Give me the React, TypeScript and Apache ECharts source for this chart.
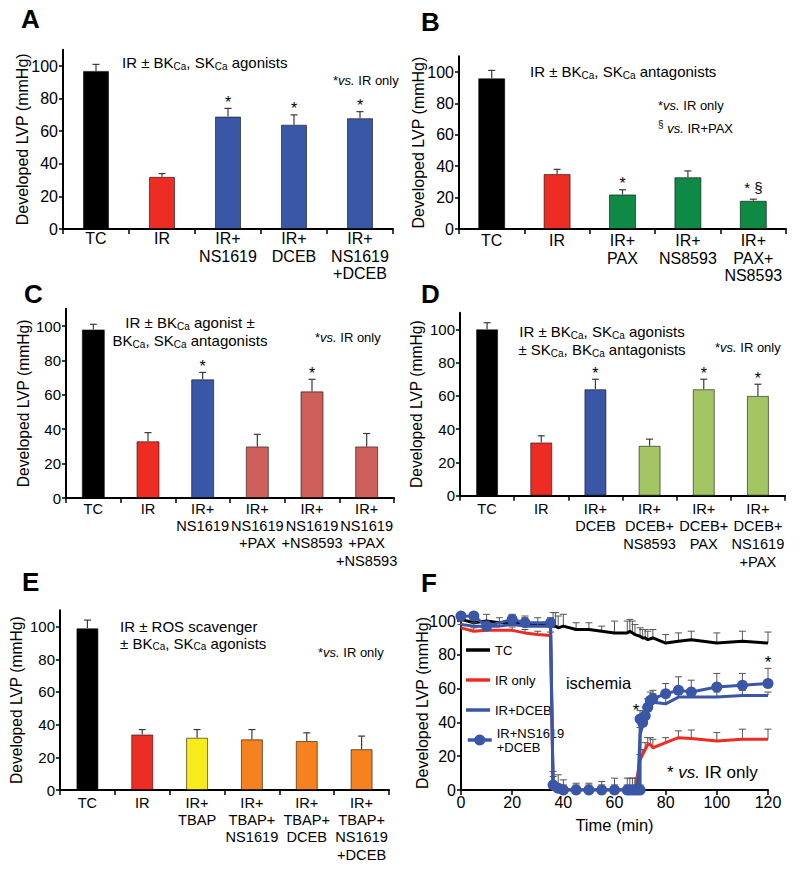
import React, { useEffect, useRef } from 'react';
import * as echarts from 'echarts';

const FONT = "'Liberation Sans', Arial, Helvetica, sans-serif";

const BLACK = '#000000';
const RED = '#ed2d24';
const BLUE = '#3a56a6';
const GREEN = '#0f8a45';
const SALMON = '#ce5f5a';
const LGREEN = '#a3c564';
const YELLOW = '#f7eb1b';
const ORANGE = '#f5821f';

const Y_TICKS = [0, 20, 40, 60, 80, 100];

// ---------- Panel A ----------
const catsA = ['TC', 'IR', 'IR+\nNS1619', 'IR+\nDCEB', 'IR+\nNS1619\n+DCEB'];
const valsA = [97, 32, 69, 64, 68];
const errA = [4, 2, 5, 6, 4];
const sigA = ['', '', '*', '*', '*'];
const colA = [BLACK, RED, BLUE, BLUE, BLUE];

// ---------- Panel B ----------
const catsB = ['TC', 'IR', 'IR+\nPAX', 'IR+\nNS8593', 'IR+\nPAX+\nNS8593'];
const valsB = [96, 35, 22, 33, 18];
const errB = [5, 3, 3, 4, 1];
const sigB = ['', '', '*', '', '* §'];
const colB = [BLACK, RED, GREEN, GREEN, GREEN];

// ---------- Panel C ----------
const catsC = ['TC', 'IR', 'IR+\nNS1619', 'IR+\nNS1619\n+PAX', 'IR+\nNS1619\n+NS8593', 'IR+\nNS1619\n+PAX\n+NS8593'];
const valsC = [98, 33, 69, 30, 62, 30];
const errC = [3, 5, 4, 7, 7, 7.5];
const sigC = ['', '', '*', '', '*', ''];
const colC = [BLACK, RED, BLUE, SALMON, SALMON, SALMON];

// ---------- Panel D ----------
const catsD = ['TC', 'IR', 'IR+\nDCEB', 'IR+\nDCEB+\nNS8593', 'IR+\nDCEB+\nPAX', 'IR+\nDCEB+\nNS1619\n+PAX'];
const valsD = [100, 32, 64, 30, 64, 60];
const errD = [4, 4, 6, 4, 6, 7];
const sigD = ['', '', '*', '', '*', '*'];
const colD = [BLACK, RED, BLUE, LGREEN, LGREEN, LGREEN];

// ---------- Panel E ----------
const catsE = ['TC', 'IR', 'IR+\nTBAP', 'IR+\nTBAP+\nNS1619', 'IR+\nTBAP+\nDCEB', 'IR+\nTBAP+\nNS1619\n+DCEB'];
const valsE = [99, 34, 32, 31, 30, 25];
const errE = [5, 3, 5, 6, 5, 8];
const sigE = ['', '', '', '', '', ''];
const colE = [BLACK, RED, YELLOW, ORANGE, ORANGE, ORANGE];

// ---------- Panel F (time course) ----------
const tTC = [0, 5, 10, 15, 20, 25, 30, 35, 36, 37, 38, 40, 45, 50, 55, 60, 65, 66, 67, 68, 70, 71, 72, 73, 75, 80, 85, 90, 100, 110, 120];
const vTC = [101, 99, 100, 99, 99, 98, 98, 97, 97, 97, 96, 97, 95, 95, 94, 93, 93, 94, 93, 92, 91, 90, 90, 89, 90, 87, 88, 89, 87, 88, 87];
const eTC = [3, 3, 4, 3, 4, 5, 4, 4, 8, 8, 7, 7, 4, 4, 3, 7, 7, 7, 7, 6, 5, 5, 5, 5, 5, 5, 5, 5, 6, 6, 6.5];

const tIR = [0, 5, 10, 20, 25, 30, 35, 36, 40, 45, 50, 55, 60, 65, 68, 70, 71, 72, 73, 74, 75, 80, 85, 90, 100, 110, 120];
const vIR = [96, 94, 94.5, 94.5, 93, 92, 91.5, 0, 0, 0, 0, 0, 0, 0, 0, 18, 21, 24, 27, 27, 25, 28, 31, 30.5, 29, 30, 30];
const eIR = [2, 2, 2, 2, 2, 2, 2, 0, 0, 0, 0, 0, 0, 0, 0, 3, 3, 4, 4, 4, 5, 3, 4, 5, 5, 6, 6];

const tDC = [0, 5, 10, 15, 20, 25, 30, 35, 36, 38, 40, 45, 50, 55, 60, 65, 68, 69, 70, 71, 72, 73, 74, 75, 80, 85, 90, 100, 110, 120];
const vDC = [98, 97, 97, 97, 98, 97, 97, 97, 2, 0, 0, 0, 0, 0, 0, 0, 0, 0, 33, 38, 42, 47, 50, 52, 51, 55, 55, 55, 56, 56];
const eDC = [2, 2, 2, 2, 2, 2, 2, 2, 6, 3, 3, 3, 3, 3, 3, 3, 3, 3, 4, 4, 4, 4, 4, 5, 4, 5, 4, 3, 3, 2];

const tND = [0, 5, 10, 20, 25, 35, 36, 38, 40, 45, 50, 55, 60, 65, 66, 67, 68, 69, 70, 70, 71, 72, 73, 74, 75, 80, 85, 90, 100, 110, 120];
const vND = [103, 103, 97, 101, 99, 99, 3, 1, 0, 0, 0, 0, 0, 0, 0, 0, 0, 0, 0, 42, 40, 44, 49, 53, 54, 57, 59, 58, 61, 62, 63];
const eND = [2, 2, 3, 3, 3, 3, 8, 8, 6, 4, 4, 5, 7, 7, 7, 7, 7, 7, 3, 5, 5, 5, 5, 5, 5, 6, 8, 7, 8, 7, 9];
const starND = tND.map((t, i) => (i === 19 ? 'left' : t === 120 ? 'above' : ''));

const F_X_TICKS = [0, 20, 40, 60, 80, 100, 120];

const both = (h: string, v: string) => ({ align: h, verticalAlign: v, textAlign: h, textVerticalAlign: v });

function barErrRender(sigs: string[]) {
  return (params: any, api: any) => {
    const i = api.value(0);
    const v = api.value(1);
    const hi = api.value(2);
    const p0 = api.coord([i, v]);
    const p1 = api.coord([i, hi]);
    const st = { stroke: '#3a3a3a', lineWidth: 1.2 };
    const children: any[] = [
      { type: 'line', shape: { x1: p0[0], y1: p0[1], x2: p1[0], y2: p1[1] }, style: st },
      { type: 'line', shape: { x1: p1[0] - 3.5, y1: p1[1], x2: p1[0] + 3.5, y2: p1[1] }, style: st },
    ];
    const s = sigs[params.dataIndex];
    if (s) {
      const multi = s.length > 1;
      children.push({
        type: 'text',
        x: p1[0],
        y: p1[1] - (multi ? 12 : 6),
        style: { text: s, fontSize: multi ? 15 : 16, fontFamily: FONT, fill: '#000', ...both('center', 'middle') },
      });
    }
    return { type: 'group', children };
  };
}

function lineErrRender(stars: string[], color: string) {
  return (params: any, api: any) => {
    const t = api.value(0);
    const v = api.value(1);
    const hi = api.value(2);
    const p0 = api.coord([t, v]);
    const p1 = api.coord([t, hi]);
    const st = { stroke: color, lineWidth: 1 };
    const children: any[] = [];
    if (hi > v) {
      children.push({ type: 'line', shape: { x1: p0[0], y1: p0[1], x2: p1[0], y2: p1[1] }, style: st });
      children.push({ type: 'line', shape: { x1: p1[0] - 3.5, y1: p1[1], x2: p1[0] + 3.5, y2: p1[1] }, style: st });
    }
    const s = stars[params.dataIndex];
    if (s === 'above') {
      children.push({ type: 'text', x: p1[0], y: p1[1] - 6, style: { text: '*', fontSize: 17, fontFamily: FONT, fill: '#000', ...both('center', 'middle') } });
    } else if (s === 'left') {
      children.push({ type: 'text', x: p0[0] - 4, y: p0[1] - 9, style: { text: '*', fontSize: 17, fontFamily: FONT, fill: '#000', ...both('center', 'middle') } });
    }
    return { type: 'group', children };
  };
}

function buildOption() {
  const grids: any[] = [];
  const xAxes: any[] = [];
  const yAxes: any[] = [];
  const series: any[] = [];

  const yAxisBase = (k: number, max: number, nameGap: number, tickFont: number, nameFont: number) => ({
    type: 'value',
    gridIndex: k,
    min: 0,
    max,
    interval: 20,
    axisLine: { show: true, lineStyle: { color: '#000', width: 2 } },
    axisTick: { show: true, length: 4, lineStyle: { color: '#000', width: 1.5 }, customValues: Y_TICKS },
    axisLabel: {
      color: '#000', fontSize: tickFont, margin: 5, fontFamily: FONT, customValues: Y_TICKS,
      formatter: (v: number) => (v > 100 ? '' : String(v)),
    },
    splitLine: { show: false },
    name: 'Developed LVP (mmHg)',
    nameLocation: 'middle',
    nameGap,
    nameRotate: 90,
    nameMoveOverlap: false,
    nameTextStyle: { color: '#000', fontSize: nameFont, fontFamily: FONT },
  });

  const barPanel = (cfg: any) => {
    const k = grids.length;
    grids.push({ ...cfg.grid, containLabel: false, outerBoundsMode: 'none' });
    xAxes.push({
      type: 'category',
      gridIndex: k,
      data: cfg.cats,
      axisLine: { show: true, lineStyle: { color: '#000', width: 2 } },
      axisTick: { show: true, length: 5, lineStyle: { color: '#000', width: 1.5 } },
      axisLabel: { interval: 0, color: '#000', fontSize: cfg.catFont, lineHeight: cfg.lineH, margin: cfg.labelMargin, fontFamily: FONT },
      splitLine: { show: false },
    });
    yAxes.push(yAxisBase(k, 110, cfg.nameGap, cfg.tickFont, cfg.nameFont));
    series.push({
      type: 'bar',
      xAxisIndex: k,
      yAxisIndex: k,
      barWidth: cfg.barWidth,
      data: cfg.vals.map((v: number, i: number) => ({ value: v, itemStyle: { color: cfg.colors[i] } })),
      itemStyle: { borderColor: 'rgba(0,0,0,0.55)', borderWidth: 1 },
      z: 2,
    });
    series.push({
      type: 'custom',
      xAxisIndex: k,
      yAxisIndex: k,
      data: cfg.vals.map((v: number, i: number) => [i, v, v + cfg.errs[i]]),
      encode: { x: 0, y: [1, 2] },
      renderItem: barErrRender(cfg.sigs),
      z: 3,
    });
  };

  barPanel({ cats: catsA, vals: valsA, errs: errA, sigs: sigA, colors: colA, grid: { left: 63, top: 49.7, width: 330, height: 179.3 }, barWidth: 26, labelMargin: 1, nameGap: 33, catFont: 16, tickFont: 16, nameFont: 16, lineH: 17.5 });
  barPanel({ cats: catsB, vals: valsB, errs: errB, sigs: sigB, colors: colB, grid: { left: 459, top: 56.3, width: 327, height: 172.7 }, barWidth: 27, labelMargin: 3, nameGap: 33, catFont: 16, tickFont: 16, nameFont: 16, lineH: 17.5 });
  barPanel({ cats: catsC, vals: valsC, errs: errC, sigs: sigC, colors: colC, grid: { left: 66, top: 308.8, width: 328, height: 189.2 }, barWidth: 23, labelMargin: 2, nameGap: 35, catFont: 14.6, tickFont: 15, nameFont: 15.6, lineH: 17.3 });
  barPanel({ cats: catsD, vals: valsD, errs: errD, sigs: sigD, colors: colD, grid: { left: 460, top: 312.7, width: 325, height: 183 }, barWidth: 22, labelMargin: 4, nameGap: 35.5, catFont: 14.6, tickFont: 15, nameFont: 15.6, lineH: 17.8 });
  barPanel({ cats: catsE, vals: valsE, errs: errE, sigs: sigE, colors: colE, grid: { left: 60, top: 610.3, width: 329, height: 179.7 }, barWidth: 22, labelMargin: 4, nameGap: 35.5, catFont: 14.6, tickFont: 15, nameFont: 15.6, lineH: 17.3 });

  // Panel F
  const kF = grids.length;
  grids.push({ left: 461, top: 616, width: 307, height: 174, containLabel: false, outerBoundsMode: 'none' });
  xAxes.push({
    type: 'value',
    gridIndex: kF,
    min: 0,
    max: 120,
    interval: 20,
    axisLine: { show: true, lineStyle: { color: '#000', width: 2 } },
    axisTick: { show: true, length: 5, lineStyle: { color: '#000', width: 1.5 } },
    axisLabel: { color: '#000', fontSize: 16, margin: 4, fontFamily: FONT, customValues: F_X_TICKS },
    splitLine: { show: false },
    name: 'Time (min)',
    nameLocation: 'middle',
    nameGap: 26,
    nameMoveOverlap: false,
    nameTextStyle: { color: '#000', fontSize: 16.5, fontFamily: FONT },
  });
  yAxes.push(yAxisBase(kF, 103, 31, 16, 16));

  const fSeries = [
    { name: 'TC', t: tTC, v: vTC, e: eTC, color: BLACK, symbol: 'none', stars: tTC.map(() => '') },
    { name: 'IR only', t: tIR, v: vIR, e: eIR, color: RED, symbol: 'none', stars: tIR.map(() => '') },
    { name: 'IR+DCEB', t: tDC, v: vDC, e: eDC, color: BLUE, symbol: 'none', stars: tDC.map(() => '') },
    { name: 'IR+NS1619\n+DCEB', t: tND, v: vND, e: eND, color: BLUE, symbol: 'circle', stars: starND },
  ];
  fSeries.forEach((s, j) => {
    series.push({
      type: 'custom',
      xAxisIndex: kF,
      yAxisIndex: kF,
      data: s.t.map((t, i) => [t, s.v[i], s.v[i] + s.e[i]]),
      encode: { x: 0, y: [1, 2] },
      renderItem: lineErrRender(s.stars, '#555'),
      z: 2 + j * 2,
      clip: false,
    });
    series.push({
      type: 'line',
      name: s.name,
      xAxisIndex: kF,
      yAxisIndex: kF,
      data: s.t.map((t, i) => [t, s.v[i]]),
      color: s.color,
      lineStyle: { color: s.color, width: 3 },
      itemStyle: { color: s.color },
      symbol: s.symbol,
      symbolSize: 11,
      showSymbol: s.symbol !== 'none',
      z: 3 + j * 2,
    });
  });

  const annRich = {
    s: { fontSize: 10, lineHeight: 8, verticalAlign: 'bottom', fontFamily: FONT, fill: '#000', color: '#000' },
    i: { fontStyle: 'italic', fontSize: 13, fontFamily: FONT, fill: '#000', color: '#000' },
    sup: { fontSize: 10, lineHeight: 16, verticalAlign: 'top', fontFamily: FONT, fill: '#000', color: '#000' },
    fi: { fontStyle: 'italic', fontSize: 17, fontFamily: FONT, fill: '#000', color: '#000' },
  };

  const txt = (x: number, y: number, text: string, opts: any = {}) => ({
    type: 'text',
    x,
    y,
    z: 100,
    style: {
      text,
      fontSize: 15,
      lineHeight: 17.5,
      fontFamily: FONT,
      fill: '#000',
      rich: annRich,
      ...both(opts.align || 'left', 'middle'),
      ...opts.style,
    },
  });

  const letter = (x: number, y: number, t: string) => ({
    type: 'text',
    x,
    y,
    z: 100,
    style: { text: t, fontSize: 26, fontWeight: 'bold', fontFamily: FONT, fill: '#000', ...both('left', 'middle') },
  });

  const graphic: any[] = [
    letter(21, 19, 'A'),
    letter(421, 22, 'B'),
    letter(24, 293.5, 'C'),
    letter(421, 294, 'D'),
    letter(22, 582, 'E'),
    letter(421, 583, 'F'),

    txt(122, 62.5, 'IR ± BK{s|Ca}, SK{s|Ca} agonists'),
    txt(333, 80, '*{i|vs.} IR only', { style: { fontSize: 13 } }),

    txt(530, 71.5, 'IR ± BK{s|Ca}, SK{s|Ca} antagonists'),
    txt(658, 105, '*{i|vs.} IR only', { style: { fontSize: 13 } }),
    txt(658, 128, '{sup|§} {i|vs.} IR+PAX', { style: { fontSize: 13 } }),

    txt(190, 331.5, 'IR ± BK{s|Ca} agonist ±\nBK{s|Ca}, SK{s|Ca} antagonists', { align: 'center' }),
    txt(315, 337, '*{i|vs.} IR only', { style: { fontSize: 13 } }),

    txt(602, 340.5, 'IR ± BK{s|Ca}, SK{s|Ca} agonists\n± SK{s|Ca}, BK{s|Ca} antagonists', { align: 'center' }),
    txt(715, 347, '*{i|vs.} IR only', { style: { fontSize: 13 } }),

    txt(120, 635, 'IR ± ROS scavenger\n± BK{s|Ca}, SK{s|Ca} agonists', { style: { lineHeight: 16.5 } }),
    txt(318, 652, '*{i|vs.} IR only', { style: { fontSize: 13 } }),

    txt(598.5, 683, 'ischemia', { align: 'center', style: { fontSize: 16.5 } }),
    txt(667, 772, '* {fi|vs.} IR only', { style: { fontSize: 17, lineHeight: 20 } }),
  ];

  return {
    animation: false,
    backgroundColor: '#ffffff',
    textStyle: { fontFamily: FONT },
    grid: grids,
    xAxis: xAxes,
    yAxis: yAxes,
    legend: [
      {
        data: ['TC', 'IR only', 'IR+DCEB'],
        orient: 'vertical',
        left: 461,
        top: 638,
        icon: 'rect',
        itemWidth: 24,
        itemHeight: 3.5,
        itemGap: 16,
        selectedMode: false,
        textStyle: { fontSize: 13, lineHeight: 14, color: '#000', fontFamily: FONT },
      },
      {
        data: ['IR+NS1619\n+DCEB'],
        orient: 'vertical',
        left: 461,
        top: 714.5,
        itemWidth: 24,
        itemHeight: 14,
        selectedMode: false,
        lineStyle: { width: 3.5 },
        textStyle: { fontSize: 13, lineHeight: 14, color: '#000', fontFamily: FONT, padding: [13, 0, 0, 0] },
      },
    ],
    graphic,
    series,
  };
}

export default function App() {
  const ref = useRef<HTMLDivElement>(null);
  useEffect(() => {
    if (!ref.current) return;
    const chart = echarts.init(ref.current, null, { renderer: 'svg' });
    chart.setOption(buildOption() as any);
    return () => chart.dispose();
  }, []);
  return (
    <div
      ref={ref}
      style={{ position: 'absolute', left: 0, top: 0, width: 800, height: 869, background: '#fff' }}
    />
  );
}
